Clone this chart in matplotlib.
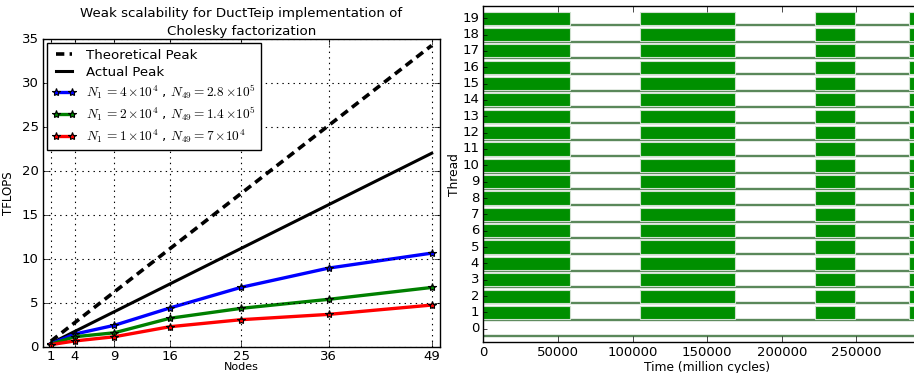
import matplotlib
matplotlib.use("Agg")
import matplotlib.pyplot as plt

# ---- scalability data (TFLOPS vs. number of nodes) ----
nodes = [1, 4, 9, 16, 25, 36, 49]
theoretical_peak = [0.7, 2.8, 6.3, 11.2, 17.5, 25.2, 34.3]
actual_peak = [0.45, 1.8, 4.05, 7.2, 11.25, 16.2, 22.05]
tflops_n4e4 = [0.4, 1.5, 2.5, 4.47, 6.82, 9.0, 10.7]
tflops_n2e4 = [0.35, 1.2, 1.65, 3.3, 4.43, 5.45, 6.8]
tflops_n1e4 = [0.3, 0.72, 1.2, 2.34, 3.14, 3.74, 4.8]
series_labels = [
    r"$N_1\,{=}4\,{\times}10^4$ , $N_{49}{=}2.8\,{\times}10^5$",
    r"$N_1\,{=}2\,{\times}10^4$ , $N_{49}{=}1.4\,{\times}10^5$",
    r"$N_1\,{=}1\,{\times}10^4$ , $N_{49}{=}7\,{\times}10^4$",
]
y_ticks_left = [0, 5, 10, 15, 20, 25, 30, 35]

# ---- thread timeline data (million cycles) ----
threads = list(range(20))
busy_threads = list(range(1, 20))
busy_starts = [0, 104800, 222300, 285300]
busy_lengths = [58300, 63700, 27000, 15000]
x_ticks_right = [0, 50000, 100000, 150000, 200000, 250000]

plt.style.use("classic")
plt.rcParams["mathtext.fontset"] = "cm"
plt.rcParams["font.family"] = ["DejaVu Sans"]

W, H = 914, 373
fig = plt.figure(figsize=(W / 100, H / 100), dpi=100, facecolor="white")

# ---------------- left: weak scalability ----------------
ax1 = fig.add_axes([43 / W, 1 - 347.3 / H, (439.6 - 43) / W, (347.3 - 39.3) / H])
ax1.set_facecolor("white")
ax1.plot(nodes, theoretical_peak, "k--", lw=2.6, dashes=(6, 3.8), label="Theoretical Peak")
ax1.plot(nodes, actual_peak, "k-", lw=2.2, label="Actual Peak")
for vals, col, lab in zip([tflops_n4e4, tflops_n2e4, tflops_n1e4],
                          ["#0000ff", "#008000", "#ff0000"], series_labels):
    ax1.plot(nodes, vals, "-", color=col, lw=2.4, marker="*", ms=6,
             mfc=col, mec="k", mew=0.8, label=lab)
ax1.set_xlim(0, 50)
ax1.set_ylim(0, 35)
ax1.set_xticks(nodes)
ax1.set_yticks(y_ticks_left)
ax1.grid(True, color="k", linestyle=":", linewidth=0.8)
ax1.tick_params(labelsize=9.5, direction="in", length=4, pad=3)
ax1.tick_params(axis="x", pad=2)
ax1.set_xlabel("Nodes", fontsize=8, labelpad=-0.5)
ax1.set_ylabel("TFLOPS", fontsize=8.5, labelpad=5)
ax1.set_title("Weak scalability for DuctTeip implementation of\nCholesky factorization",
              fontsize=9.6, pad=3, linespacing=1.55)
leg = ax1.legend(loc="upper left", fontsize=9.6, numpoints=2, handlelength=1.8,
                 borderpad=0.4, labelspacing=0.3, handletextpad=0.75,
                 borderaxespad=0.3, fancybox=False)
leg.get_frame().set_linewidth(1.0)

# ---------------- right: per-thread busy timeline ----------------
px_per_unit = 1.492 / 1000.0
x_max = 300000
ax2 = fig.add_axes([483.3 / W, 1 - 342.3 / H, x_max * px_per_unit / W, (342.3 - 6) / H])
ax2.set_facecolor("white")
for t in threads:
    ax2.plot([0, x_max], [t - 0.44, t - 0.44], color="#5a885a", lw=1.7,
             solid_capstyle="butt", zorder=1)
for t in busy_threads:
    ax2.broken_barh(list(zip(busy_starts, busy_lengths)), (t - 0.4, 0.8),
                    facecolors="#008f00", edgecolors="#cfe0cf", linewidth=0.8, zorder=2)
ax2.set_xlim(0, x_max)
ax2.set_ylim(-0.83, 19.75)
ax2.set_yticks(threads)
ax2.set_xticks(x_ticks_right)
ax2.tick_params(labelsize=9.5, direction="in", length=4, pad=3)
ax2.tick_params(axis="y", length=3)
ax2.set_xlabel("Time (million cycles)", fontsize=8.8, labelpad=1)
ax2.set_ylabel("Thread", fontsize=8.8, labelpad=1)

fig.savefig("out.png", dpi=100, facecolor="white")
